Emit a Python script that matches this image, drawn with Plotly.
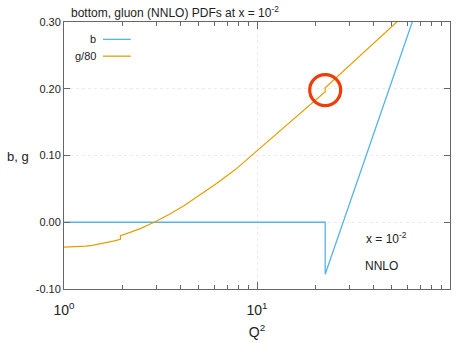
import plotly.graph_objects as go

# Heavy-quark threshold (m_b = 4.75 GeV); the charm threshold is at Q^2 = 1.96
MB2 = 22.56
MC2 = 1.96

# bottom PDF b(x=1e-2, Q^2): zero below threshold, negative start at NNLO
q2_b = [1.0, MB2, MB2, 30.0, 40.0, 50.0, 64.0, 70.0]
b_vals = [0.0, 0.0, -0.078, 0.026, 0.130, 0.211, 0.300, 0.334]

# gluon PDF divided by 80 (small steps at the charm and bottom thresholds)
q2_g = [1.0, 1.1, 1.2, 1.3, 1.4, 1.5, 1.6, 1.7, 1.8, MC2, MC2, 2.2, 2.5, 2.93,
        3.5, 4.2, 5.0, 6.2, 7.69, 9.39, 12.0, 15.0, 18.8, MB2, MB2,
        30.0, 40.0, 53.0, 70.0]
g_vals = [-0.0374, -0.0372, -0.0367, -0.0358, -0.0346, -0.0331, -0.0315, -0.0299,
          -0.0283, -0.0255, -0.0200, -0.0152, -0.0092, 0.0,
          0.0115, 0.0250, 0.0395, 0.0585, 0.0785, 0.1000, 0.1270, 0.1510,
          0.1750, 0.1955, 0.2015, 0.2340, 0.2670, 0.3000, 0.3320]

x_tickvals = [1, 10, 100]
x_ticktext = ["10<sup>0</sup>", "10<sup>1</sup>", "10<sup>2</sup>"]
x_minor = [2, 3, 4, 5, 6, 7, 8, 9, 20, 30, 40, 50, 60, 70, 80, 90]
y_tickvals = [-0.10, 0.0, 0.10, 0.20, 0.30]
y_ticktext = ["-0.10", "0.00", "0.10", "0.20", "0.30"]

BLUE = "#56b4e9"
ORANGE = "#e69f00"
RED = "#f03c0a"
FONT = "Liberation Sans"
AXIS = "#666666"
GRID = "#ebebeb"

fig = go.Figure()
fig.add_trace(go.Scatter(x=q2_b, y=b_vals, mode="lines",
                         line=dict(color=BLUE, width=1.3), name="b"))
fig.add_trace(go.Scatter(x=q2_g, y=g_vals, mode="lines",
                         line=dict(color=ORANGE, width=1.2), name="g/80"))

# ring highlighting the step of g/80 at the bottom threshold
fig.add_trace(go.Scatter(x=[MB2], y=[0.198], mode="markers",
                         marker=dict(symbol="circle-open", size=31, color=RED,
                                     line=dict(color=RED, width=3.2)),
                         cliponaxis=False, hoverinfo="skip"))

fig.update_layout(
    width=459, height=343,
    margin=dict(l=64, r=9, t=22, b=54),
    paper_bgcolor="white", plot_bgcolor="white",
    showlegend=False,
    font=dict(family=FONT, color="#222222", size=11),
)

fig.update_xaxes(
    type="log", range=[0, 2], automargin=False,
    tickvals=x_tickvals, ticktext=x_ticktext,
    tickfont=dict(size=14),
    ticks="inside", ticklen=7, tickcolor=AXIS, tickwidth=1,
    ticklabelstandoff=8,
    minor=dict(tickvals=x_minor, ticks="inside", ticklen=4, tickcolor=AXIS,
               showgrid=False),
    showline=True, linecolor=AXIS, linewidth=1, mirror="ticks",
    showgrid=True, gridcolor=GRID, griddash="dot", gridwidth=1,
    zeroline=False,
    title=dict(text="Q<sup>2</sup>", font=dict(size=14), standoff=10),
)
fig.update_yaxes(
    range=[-0.10, 0.30], automargin=False,
    tickvals=y_tickvals, ticktext=y_ticktext,
    tickfont=dict(size=11),
    ticks="inside", ticklen=6, tickcolor=AXIS, tickwidth=1,
    showline=True, linecolor=AXIS, linewidth=1, mirror="ticks",
    showgrid=True, gridcolor=GRID, griddash="dot", gridwidth=1,
    zeroline=False,
)

# y-axis label, written horizontally to the left of the tick labels
fig.add_annotation(text="b, g", xref="paper", yref="paper", x=-0.12, y=0.495,
                   xanchor="center", yanchor="middle", showarrow=False,
                   font=dict(size=13))

# plot title above the frame
fig.add_annotation(text="bottom, gluon (NNLO) PDFs at x = 10<sup>-2</sup>",
                   xref="paper", yref="paper", x=0.012, y=1.0,
                   xanchor="left", yanchor="bottom", yshift=0, showarrow=False,
                   font=dict(size=12))

# legend keys: text right-aligned, then a short line sample
legend_rows = [("b", BLUE, 0.935), ("g/80", ORANGE, 0.872)]
for label, color, yy in legend_rows:
    fig.add_annotation(text=label, xref="paper", yref="paper", x=0.088, y=yy,
                       xanchor="right", yanchor="middle", showarrow=False,
                       font=dict(size=11))
    fig.add_shape(type="line", xref="paper", yref="paper",
                  x0=0.101, x1=0.173, y0=yy, y1=yy,
                  line=dict(color=color, width=1.3))

# labels inside the plot, lower right
fig.add_annotation(text="x = 10<sup>-2</sup>", xref="paper", yref="paper",
                   x=0.835, y=0.19, xanchor="center", yanchor="middle",
                   showarrow=False, font=dict(size=12))
fig.add_annotation(text="NNLO", xref="paper", yref="paper",
                   x=0.822, y=0.085, xanchor="center", yanchor="middle",
                   showarrow=False, font=dict(size=12))

fig.write_html("out.html")
